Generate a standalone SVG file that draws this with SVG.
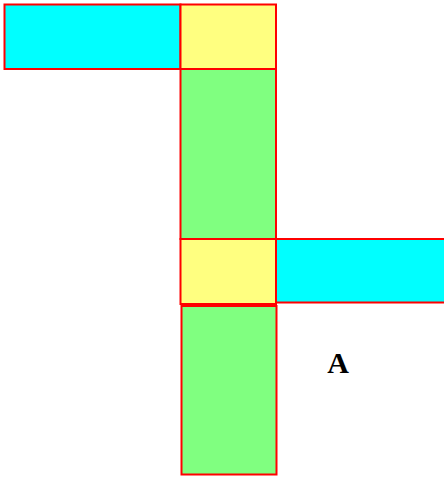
<svg xmlns="http://www.w3.org/2000/svg" width="444" height="477" viewBox="0 0 444 477">
<style>
rect{stroke:#ff0000;stroke-width:2}
.c{fill:#00ffff}.y{fill:#ffff80}.g{fill:#80ff80}
text{font-family:"Liberation Serif",serif;font-weight:bold;font-size:30px;fill:#000}
</style>
<g id="cyan1"><rect class="c" x="4.5" y="4.5" width="176" height="64.5"/></g>
<g id="yellow1"><rect class="y" x="180.5" y="4.5" width="95.5" height="64.5"/></g>
<g id="green1"><rect class="g" x="180.5" y="69" width="95.5" height="170"/></g>
<g id="yellow2"><rect class="y" x="180.5" y="239" width="95.5" height="65"/></g>
<g id="cyan2"><rect class="c" x="276" y="239" width="169" height="63.5"/></g>
<g id="green2"><rect class="g" x="181.5" y="306" width="95" height="168.5"/></g>
<g id="connectors"/>
<text x="338" y="373" text-anchor="middle">A</text>
</svg>
